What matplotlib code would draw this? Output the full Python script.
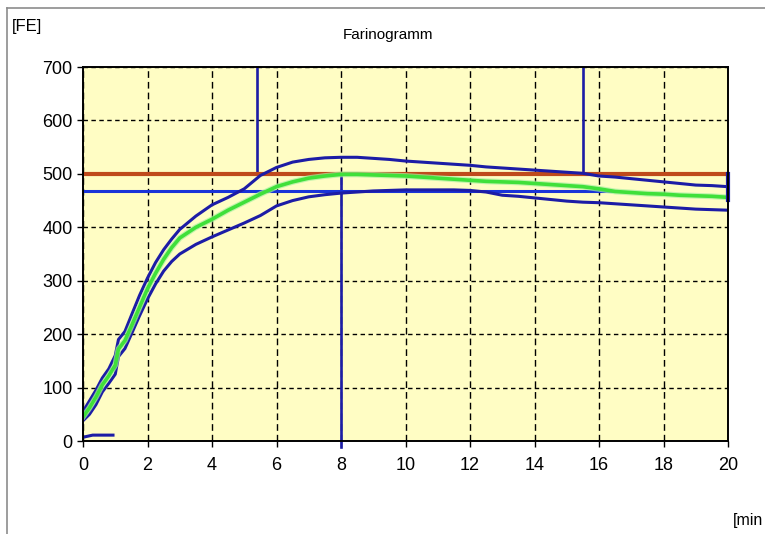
import matplotlib
matplotlib.use("Agg")
import matplotlib.pyplot as plt
from matplotlib.lines import Line2D

plt.rcParams['font.family'] = ['Liberation Sans', 'DejaVu Sans']

# Time axis (min) shared by the three dough curves
time_min = [0, 0.2, 0.4, 0.6, 0.8, 1.0, 1.1, 1.3, 1.5, 1.75, 2.0, 2.25, 2.5, 2.75,
            3.0, 3.5, 4.0, 4.5, 5.0, 5.5, 6.0, 6.5, 7.0, 7.5, 8.0, 8.5, 9.0, 9.5,
            10.0, 10.5, 11.0, 11.5, 12.0, 12.5, 13.0, 13.5, 14.0, 14.5, 15.0, 15.5,
            16.0, 16.5, 17.0, 17.5, 18.0, 18.5, 19.0, 19.5, 20.0]

# Consistency in Farinograph units [FE]
upper_fe = [55, 75, 95, 118, 135, 160, 190, 205, 235, 272, 305, 334, 358, 378,
            396, 421, 442, 456, 472, 497, 512, 522, 527, 530, 531, 531, 529, 527,
            524, 522, 520, 518, 516, 513, 511, 509, 507, 505, 503, 501,
            496, 494, 491, 488, 485, 482, 479, 478, 476]
median_fe = [45, 62, 82, 105, 122, 142, 172, 188, 215, 250, 285, 314, 340, 362,
             380, 400, 415, 432, 447, 462, 476, 485, 492, 496, 499, 499, 498, 497,
             496, 494, 492, 490, 488, 486, 485, 484, 482, 480, 478, 476,
             472, 467, 465, 463, 462, 460, 459, 458, 456]
lower_fe = [38, 50, 68, 92, 108, 125, 158, 173, 200, 234, 266, 294, 318, 336,
            350, 368, 382, 395, 408, 422, 440, 450, 457, 461, 464, 466, 468, 469,
            470, 470, 470, 470, 469, 466, 460, 458, 455, 452, 449, 447,
            446, 444, 442, 440, 438, 436, 434, 433, 432]

# Reference levels and markers
target_fe = 500
target_span = [0.1, 20.0]
hline_fe = 468
hline_span = [0.0, 16.4]
peak_time = 8.0
peak_fe = 500
arrival_time = 5.4
departure_time = 15.5
marker_fe = 500
end_span_fe = [452, 500]
start_time = [0.0, 0.3, 0.93]
start_fe = [7, 11, 11]

x_ticks = [0, 2, 4, 6, 8, 10, 12, 14, 16, 18, 20]
y_ticks = [0, 100, 200, 300, 400, 500, 600, 700]

navy = '#1c1ca6'
blue = '#1a34d8'
red = '#bf4a1c'
green = '#3fe03a'

fig = plt.figure(figsize=(7.65, 5.34), dpi=100)
ax = fig.add_axes([83 / 765, 1 - 441 / 534, 645 / 765, 374 / 534])
ax.set_facecolor('#fffdc4')

ax.set_xlim(0, 20)
ax.set_ylim(0, 700)
ax.set_xticks(x_ticks)
ax.set_yticks(y_ticks)
ax.tick_params(axis='both', direction='out', length=4.5, width=1.0, color='black',
               labelsize=13)
ax.tick_params(axis='x', pad=7)
ax.tick_params(axis='y', pad=3)
for s in ax.spines.values():
    s.set_linewidth(1.4)

ax.set_axisbelow(True)
ax.yaxis.grid(True, color='black', linewidth=1.0, linestyle=(0, (3.2, 2.5)))
ax.xaxis.grid(True, color='black', linewidth=1.0, linestyle=(0, (4.8, 2.9)))

# Markers for arrival, peak and departure
ax.plot([arrival_time, arrival_time], [700, marker_fe], color=navy, lw=1.9)
ax.plot([departure_time, departure_time], [700, marker_fe], color=navy, lw=1.9)
ax.plot([peak_time, peak_time], [-12, peak_fe], color=navy, lw=1.9, clip_on=False)

ax.plot(target_span, [target_fe, target_fe], color=red, lw=3.0)
ax.plot(hline_span, [hline_fe, hline_fe], color=blue, lw=2.2)

ax.plot(time_min, upper_fe, color=navy, lw=2.2)
ax.plot(time_min, lower_fe, color=navy, lw=2.2)
ax.plot(time_min, median_fe, color='#a8f0a0', lw=4.2, alpha=0.7)
ax.plot(time_min, median_fe, color=green, lw=2.6)

ax.plot([20, 20], end_span_fe, color=navy, lw=3.0, clip_on=False)
ax.plot(start_time, start_fe, color=navy, lw=2.2)

fig.text(27 / 765, 1 - 27 / 534, '[FE]', ha='center', va='center', fontsize=12)
fig.text(388 / 765, 1 - 35 / 534, 'Farinogramm', ha='center', va='center', fontsize=11)
fig.text(733 / 765, 1 - 521 / 534, '[min', ha='left', va='center', fontsize=11.5)

# Window frame
fig.add_artist(Line2D([7 / 765, 1.0], [1 - 8 / 534, 1 - 8 / 534],
                      transform=fig.transFigure, color='#8c8c8c', lw=1.2))
fig.add_artist(Line2D([7 / 765, 7 / 765], [0.0, 1 - 8 / 534],
                      transform=fig.transFigure, color='#8c8c8c', lw=1.2))

fig.savefig('out.png', dpi=100)
